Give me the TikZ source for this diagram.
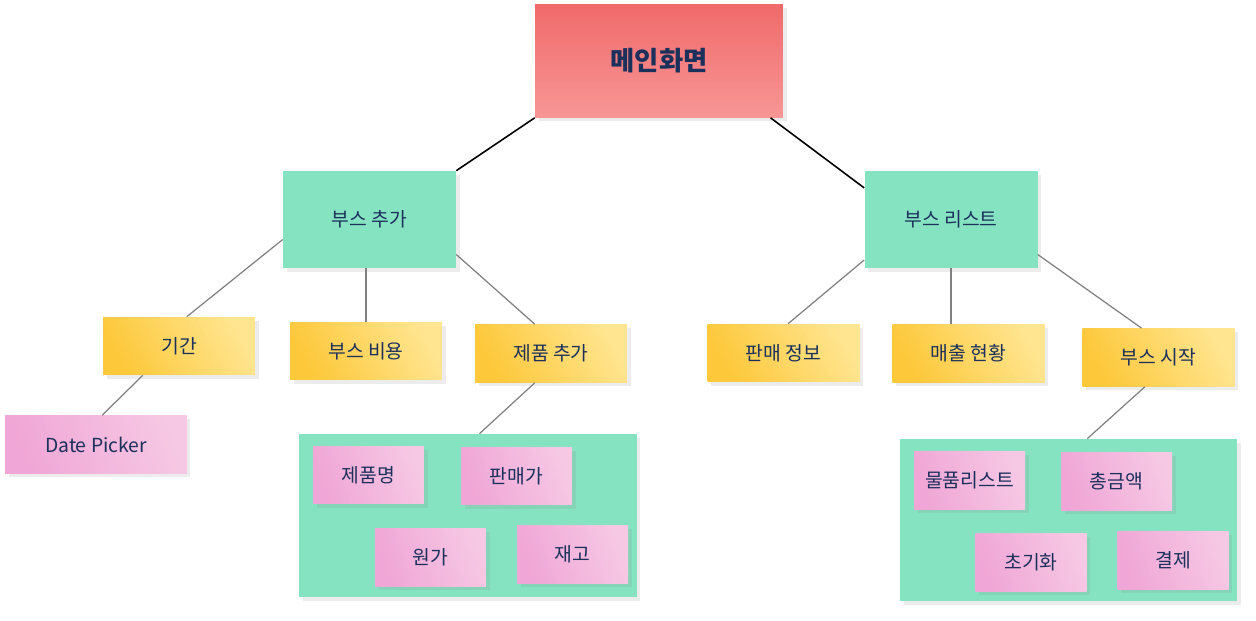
\documentclass[tikz,border=0pt]{standalone}
\usepackage{fontspec}
\setmainfont{Noto Sans CJK KR}
\usetikzlibrary{shadows}

\definecolor{ink}{HTML}{1C305C}
\definecolor{notered}{HTML}{F06A6A}
\definecolor{notered2}{HTML}{F89696}
\definecolor{notegreen}{HTML}{86E3C1}
\definecolor{noteyellow}{HTML}{FDC83A}
\definecolor{noteyellow2}{HTML}{FFE590}
\definecolor{notepink}{HTML}{F0A6D6}
\definecolor{notepink2}{HTML}{F6C8E4}

\begin{document}
\begin{tikzpicture}[x=0.02cm,y=-0.02cm,
  note/.style={rectangle,inner sep=0pt,text=ink,font=\fontsize{11}{13}\selectfont,
    drop shadow={shadow xshift=2pt,shadow yshift=-2pt,opacity=0.15}},
  topnote/.style={note,minimum width=4.96cm,minimum height=2.26cm,
    top color=notered,bottom color=notered2,font=\fontsize{15}{17}\selectfont\bfseries},
  boxnote/.style={note,fill=notegreen,minimum width=3.46cm,minimum height=1.94cm},
  itemnote/.style={note,minimum width=3.04cm,minimum height=1.16cm,
    left color=noteyellow,right color=noteyellow2,shading angle=120},
  leafnote/.style={note,minimum width=2.22cm,minimum height=1.16cm,
    left color=notepink,right color=notepink2,shading angle=110},
  panel/.style={note,fill=notegreen,minimum width=6.76cm,minimum height=3.26cm},
  trunk/.style={line width=0.9pt,black},
  twig/.style={line width=0.7pt,black!50}]
  \useasboundingbox (0,0) rectangle (1256,621);

  % top
  \node[topnote] (main) at (659,61) {메인화면};
  \node[boxnote] (add) at (369.5,219.5) {부스 추가};
  \node[boxnote] (list) at (951,219.5) {부스 리스트};

  % left branch
  \node[itemnote] (period) at (179,346) {기간};
  \node[itemnote] (cost) at (366,351) {부스 비용};
  \node[itemnote] (prod) at (551,353.5) {제품 추가};
  \node[leafnote,minimum width=3.64cm] (date) at (96,444.5) {Date Picker};
  \node[panel] (pbox) at (468,515.5) {};
  \node[leafnote] (pname) at (368.5,475) {제품명};
  \node[leafnote] (price) at (516.5,476) {판매가};
  \node[leafnote] (origin) at (430.5,557) {원가};
  \node[leafnote] (stock) at (572.5,554.5) {재고};

  % right branch
  \node[itemnote] (sale) at (783.5,353) {판매 정보};
  \node[itemnote] (rev) at (968.5,353.5) {매출 현황};
  \node[itemnote] (start) at (1158.5,357.5) {부스 시작};
  \node[panel,minimum width=6.74cm,minimum height=3.24cm] (sbox) at (1068.5,520) {};
  \node[leafnote] (goods) at (969.5,480.5) {물품리스트};
  \node[leafnote] (total) at (1116.5,481.5) {총금액};
  \node[leafnote] (reset) at (1031,562) {초기화};
  \node[leafnote] (pay) at (1173,560) {결제};

  % connectors
  \draw[trunk] (main.south west) -- (add.north east);
  \draw[trunk] (main.-27) -- (list.160);
  \draw[twig] (add.193) -- (period.75);
  \draw[twig] (cost.north |- add.south) -- (cost.north);
  \draw[twig] (add.-22) -- (prod.119);
  \draw[twig] (period.219) -- (date.78);
  \draw[twig] (prod.241) -- (pbox.82);
  \draw[twig] (list.205) -- (sale.81);
  \draw[twig] (list.south) -- (list.south |- rev.north);
  \draw[twig] (list.-22) -- (start.120);
  \draw[twig] (start.245) -- (sbox.77);
\end{tikzpicture}
\end{document}
